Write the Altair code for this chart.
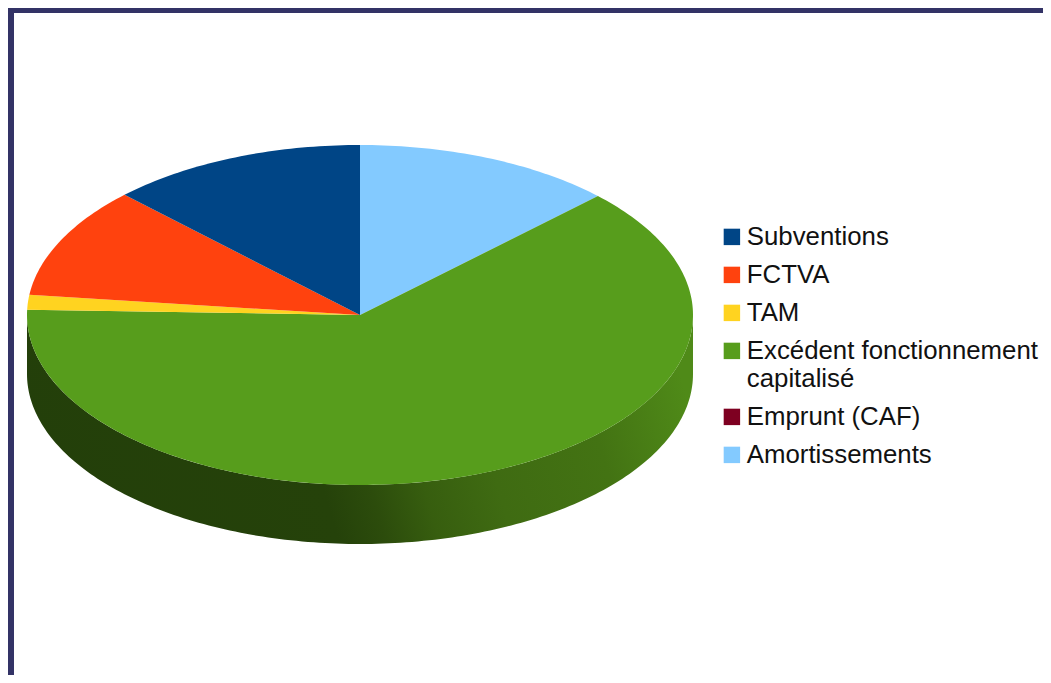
import math
import altair as alt
import pandas as pd

categories = ["Subventions", "FCTVA", "TAM", "Excédent fonctionnement capitalisé", "Emprunt (CAF)", "Amortissements"]
colors = ["#004586", "#ff420e", "#ffd320", "#579d1c", "#7e0021", "#83caff"]
# share of the turn (degrees)
shares = [45.0, 38.2, 5.0, 226.2, 0.0, 45.6]
# drawing order on the turn, clockwise from 12 o'clock
turn_order = [5, 4, 3, 2, 1, 0]

DEPTH = 0.347
W, H = 1035, 667
X_DOMAIN = [(8 - 360) / 333, (8 + W - 360) / 333]
Y_DOMAIN = [(315 - 8 - H) / 170, (315 - 8) / 170]

rows = []
start = 0.0
for i in turn_order:
    end = start + shares[i]
    rows.append(dict(cat=categories[i], k=0, x=0.0, y=0.0))
    steps = max(1, int(shares[i]))
    if shares[i] > 0:
        for s in range(steps + 1):
            a = math.radians(start + (end - start) * s / steps)
            rows.append(dict(cat=categories[i], k=s + 1, x=math.sin(a), y=math.cos(a)))
    start = end
wedges = pd.DataFrame(rows)

wall_rows = []
for d in range(90, 271):
    a = math.radians(d)
    wall_rows.append(dict(px=math.sin(a), upper=math.cos(a), lower=math.cos(a) - DEPTH))
wall = pd.DataFrame(wall_rows).sort_values("px")

x_scale = alt.Scale(domain=X_DOMAIN, nice=False, zero=False)
y_scale = alt.Scale(domain=Y_DOMAIN, nice=False, zero=False)

wall_chart = alt.Chart(wall).mark_area(
    color=alt.Gradient(
        gradient="linear", x1=0, x2=1, y1=0.55, y2=0.45,
        stops=[
            alt.GradientStop(offset=0.0, color="#233f0a"),
            alt.GradientStop(offset=0.42, color="#25420a"),
            alt.GradientStop(offset=0.49, color="#2c4c0c"),
            alt.GradientStop(offset=0.57, color="#375e0f"),
            alt.GradientStop(offset=0.68, color="#3f6b12"),
            alt.GradientStop(offset=0.85, color="#437313"),
            alt.GradientStop(offset=1.0, color="#4f8a18"),
        ],
    )
).encode(
    x=alt.X("px:Q", scale=x_scale, axis=None),
    y=alt.Y("upper:Q", scale=y_scale, axis=None),
    y2=alt.Y2("lower"),
)

legend = alt.Legend(
    title=None, orient="none", legendX=711, legendY=216,
    symbolType="square", symbolSize=270, symbolStrokeWidth=0,
    labelFont="Liberation Sans", labelFontSize=25.8, labelColor="#111111",
    labelLimit=400, labelOffset=2, rowPadding=11, labelBaseline="middle",
    labelExpr="datum.label == 'Excédent fonctionnement capitalisé' ? ['Excédent fonctionnement', 'capitalisé'] : datum.label",
)

wedge_chart = alt.Chart(wedges).mark_line(filled=True, strokeWidth=0, interpolate="linear-closed").encode(
    x=alt.X("x:Q", scale=x_scale, axis=None),
    y=alt.Y("y:Q", scale=y_scale, axis=None),
    color=alt.Color("cat:N", scale=alt.Scale(domain=categories, range=colors), sort=None, legend=legend),
    order="k:Q",
)

frame_left = alt.Chart(pd.DataFrame({"a": [0]})).mark_rect(color="#333366").encode(
    x=alt.value(0), x2=alt.value(6), y=alt.value(0), y2=alt.value(H))
frame_top = alt.Chart(pd.DataFrame({"a": [0]})).mark_rect(color="#333366").encode(
    x=alt.value(0), x2=alt.value(W), y=alt.value(0), y2=alt.value(5))

chart = alt.layer(frame_left, frame_top, wall_chart, wedge_chart).resolve_scale(
    x="shared", y="shared"
).properties(
    width=W, height=H, padding=0, background="white",
    autosize=alt.AutoSizeParams(type="none"),
).configure_view(stroke=None)

chart.save("out.html", embed_options={"renderer": "svg", "actions": False})
